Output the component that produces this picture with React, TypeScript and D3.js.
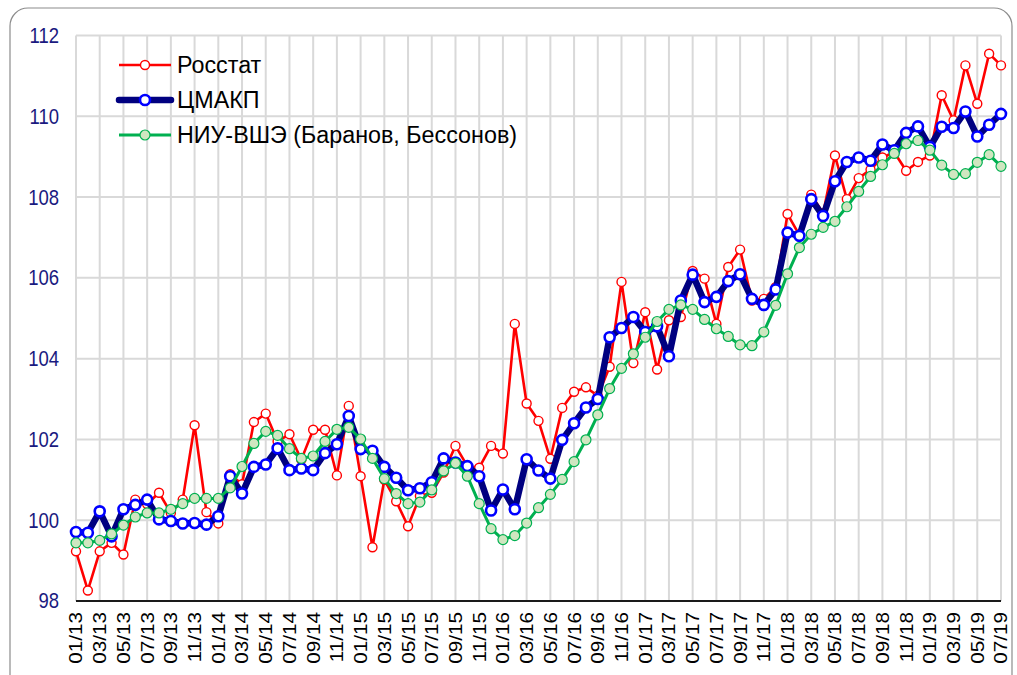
import * as d3 from "d3";
import { useEffect, useRef } from "react";

// monthly categories 01/2013 .. 07/2019
const months = d3.timeMonths(new Date(2013, 0, 1), new Date(2019, 7, 1));
const categories = months.map((d) => d3.timeFormat("%m/%y")(d));

const rosstat = [
  99.23, 98.26, 99.23, 99.44, 99.15, 100.51, 100.4, 100.68, 100.18, 100.51,
  102.35, 100.2, 99.92, 101.14, 100.89, 102.43, 102.64, 101.95, 102.13, 101.5,
  102.24, 102.24, 101.11, 102.83, 101.09, 99.33, 101.0, 100.47, 99.85, 100.6,
  100.68, 101.18, 101.84, 101.34, 101.3, 101.84, 101.65, 104.86, 102.89, 102.46,
  101.52, 102.78, 103.18, 103.29, 103.08, 103.8, 105.9, 103.89, 105.15, 103.73,
  104.95, 105.03, 106.17, 105.98, 104.86, 106.27, 106.7, 105.44, 105.48, 105.77,
  107.58, 107.06, 108.06, 107.6, 109.03, 107.95, 108.47, 108.68, 108.98, 109.11,
  108.65, 108.87, 109.03, 110.52, 109.9, 111.26, 110.31, 111.55, 111.26,
];

const cmakp = [
  99.71, 99.69, 100.22, 99.6, 100.27, 100.38, 100.51, 100.02, 99.98, 99.92,
  99.93, 99.89, 100.1, 101.09, 100.66, 101.32, 101.38, 101.78, 101.24, 101.28,
  101.24, 101.66, 101.88, 102.58, 101.76, 101.72, 101.32, 101.05, 100.74, 100.79,
  100.94, 101.53, 101.43, 101.34, 101.09, 100.24, 100.76, 100.27, 101.51, 101.23,
  101.03, 101.99, 102.4, 102.79, 103.0, 104.53, 104.76, 105.03, 104.66, 104.8,
  104.06, 105.44, 106.08, 105.4, 105.53, 105.92, 106.09, 105.48, 105.33, 105.71,
  107.12, 107.04, 107.95, 107.53, 108.39, 108.87, 108.98, 108.9, 109.3, 109.16,
  109.59, 109.75, 109.24, 109.74, 109.71, 110.12, 109.5, 109.79, 110.06,
];

const hse = [
  99.44, 99.44, 99.5, 99.66, 99.88, 100.08, 100.18, 100.18, 100.27, 100.41,
  100.54, 100.54, 100.54, 100.8, 101.33, 101.9, 102.2, 102.1, 101.77, 101.53,
  101.59, 101.95, 102.25, 102.3, 102.01, 101.53, 101.03, 100.66, 100.41, 100.45,
  100.75, 101.22, 101.41, 101.09, 100.41, 99.79, 99.52, 99.62, 99.93, 100.31,
  100.64, 101.01, 101.45, 101.99, 102.61, 103.26, 103.76, 104.12, 104.53, 104.92,
  105.22, 105.33, 105.22, 104.97, 104.74, 104.55, 104.34, 104.32, 104.66, 105.32,
  106.1, 106.75, 107.08, 107.25, 107.4, 107.76, 108.14, 108.51, 108.8, 109.08,
  109.32, 109.4, 109.16, 108.79, 108.56, 108.58, 108.86, 109.05, 108.76,
];

const yTicks = [98, 100, 102, 104, 106, 108, 110, 112];

const seriesNames = ["Росстат", "ЦМАКП", "НИУ-ВШЭ (Баранов, Бессонов)"];

export default function App() {
  const ref = useRef<SVGSVGElement>(null);

  useEffect(() => {
    if (!ref.current) return;
    const svg = d3.select(ref.current);
    svg.selectAll("*").remove();

    const left = 76;
    const right = 1001;
    const top = 35.5;
    const bottom = 601;

    const x = d3.scalePoint<string>().domain(categories).range([left, right]);
    const y = d3.scaleLinear().domain([98, 112]).range([bottom, top]);

    // outer frame
    svg
      .append("rect")
      .attr("x", 10)
      .attr("y", 8)
      .attr("width", 1002)
      .attr("height", 720)
      .attr("rx", 18)
      .attr("fill", "white")
      .attr("stroke", "#8c8c8c")
      .attr("stroke-width", 1.2);

    const grid = svg.append("g");
    const tickCats = categories.filter((_, i) => i % 2 === 0);

    // vertical gridlines every 2 months
    grid
      .selectAll("line.v")
      .data(tickCats)
      .enter()
      .append("line")
      .attr("x1", (d) => x(d)!)
      .attr("x2", (d) => x(d)!)
      .attr("y1", top)
      .attr("y2", bottom)
      .attr("stroke", "#d9d9d9")
      .attr("stroke-width", 2);

    // horizontal gridlines
    grid
      .selectAll("line.h")
      .data(yTicks.slice(1))
      .enter()
      .append("line")
      .attr("x1", left)
      .attr("x2", right)
      .attr("y1", (d) => y(d))
      .attr("y2", (d) => y(d))
      .attr("stroke", "#d9d9d9")
      .attr("stroke-width", 2);

    // x axis line
    svg
      .append("line")
      .attr("x1", left)
      .attr("x2", right)
      .attr("y1", bottom)
      .attr("y2", bottom)
      .attr("stroke", "#1a1a1a")
      .attr("stroke-width", 2);

    // y labels
    svg
      .selectAll("text.ylab")
      .data(yTicks)
      .enter()
      .append("text")
      .attr("transform", (d) => `translate(59,${y(d)}) scale(1,1.15)`)
      .attr("text-anchor", "end")
      .attr("dominant-baseline", "central")
      .style("font-family", "'Liberation Sans', Arial, sans-serif")
      .style("font-size", "18.5px")
      .style("fill", "#1a1a80")
      .text((d) => d);

    // x labels (rotated)
    svg
      .selectAll("text.xlab")
      .data(tickCats)
      .enter()
      .append("text")
      .attr(
        "transform",
        (d) => `translate(${x(d)},612) rotate(-90) scale(1.22,1.05)`
      )
      .attr("text-anchor", "end")
      .attr("dominant-baseline", "central")
      .style("font-family", "'Liberation Sans', Arial, sans-serif")
      .style("font-size", "17px")
      .style("fill", "#000")
      .text((d) => d);

    const styles = [
      { data: rosstat, line: "#ff0000", lw: 2.6, r: 4.5, fill: "#ffffff", stroke: "#ff0000", sw: 1.4 },
      { data: cmakp, line: "#000080", lw: 6.5, r: 5, fill: "#ffffff", stroke: "#0000ff", sw: 2.6 },
      { data: hse, line: "#00b050", lw: 3, r: 5, fill: "#cfe6c0", stroke: "#00b050", sw: 1.2 },
    ];

    const line = d3
      .line<number>()
      .x((_, i) => x(categories[i])!)
      .y((d) => y(d));

    styles.forEach((s) => {
      const g = svg.append("g");
      g.append("path")
        .attr("d", line(s.data)!)
        .attr("fill", "none")
        .attr("stroke", s.line)
        .attr("stroke-width", s.lw)
        .attr("stroke-linejoin", "round");
      g.selectAll("circle")
        .data(s.data)
        .enter()
        .append("circle")
        .attr("cx", (_, i) => x(categories[i])!)
        .attr("cy", (d) => y(d))
        .attr("r", s.r)
        .attr("fill", s.fill)
        .attr("stroke", s.stroke)
        .attr("stroke-width", s.sw);
    });

    // legend
    const legend = svg.append("g");
    styles.forEach((s, i) => {
      const ly = 65 + i * 35;
      legend
        .append("line")
        .attr("x1", 119)
        .attr("x2", 171)
        .attr("y1", ly)
        .attr("y2", ly)
        .attr("stroke", s.line)
        .attr("stroke-width", s.lw)
        .attr("stroke-linecap", i === 1 ? "round" : "butt");
      legend
        .append("circle")
        .attr("cx", 145)
        .attr("cy", ly)
        .attr("r", s.r)
        .attr("fill", s.fill)
        .attr("stroke", s.stroke)
        .attr("stroke-width", s.sw);
      legend
        .append("text")
        .attr("x", 177)
        .attr("y", ly)
        .attr("dominant-baseline", "central")
        .style("font-family", "'Liberation Sans', Arial, sans-serif")
        .style("font-size", "23.3px")
        .style("fill", "#000")
        .text(seriesNames[i]);
    });
  }, []);

  return (
    <svg
      ref={ref}
      width={1017}
      height={675}
      style={{ position: "absolute", left: 0, top: 0, background: "white" }}
    />
  );
}
